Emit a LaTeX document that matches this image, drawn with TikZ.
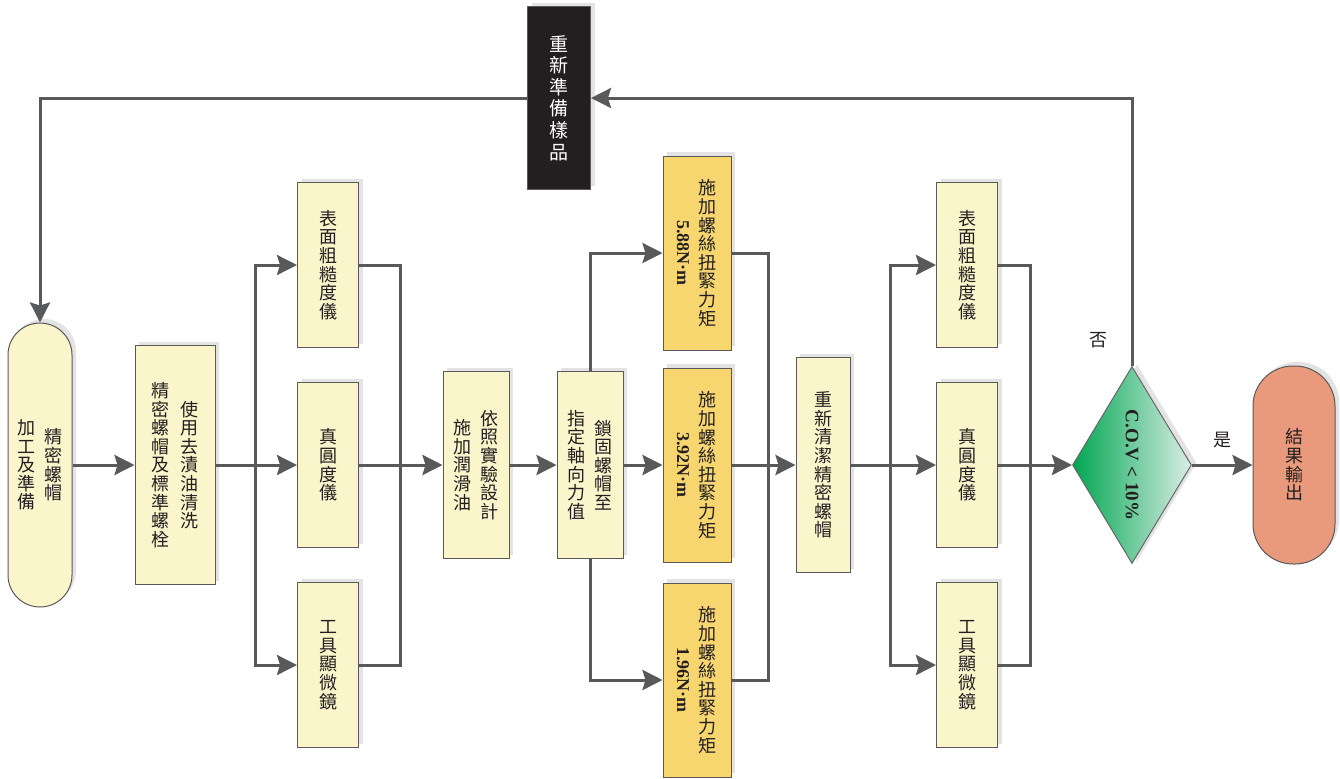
\documentclass[tikz,border=0pt]{standalone}
\usepackage{fontspec}
\setmainfont{Liberation Serif}
\newfontfamily\cjkfont{Noto Sans CJK TC}
\usepackage{graphicx}
\usepackage{tikz}
\usetikzlibrary{arrows.meta,positioning,shapes.geometric,shadows}
\definecolor{boxyellow}{RGB}{250,245,202}
\definecolor{torqueyellow}{RGB}{247,214,112}
\definecolor{resultsalmon}{RGB}{234,154,124}
\definecolor{covgreen}{RGB}{0,166,81}
\definecolor{covlight}{RGB}{218,238,230}
\definecolor{linegray}{RGB}{88,89,91}
\definecolor{inkdark}{RGB}{35,31,32}
\makeatletter
\newcommand\vcol[1]{$\vcenter{\@tfor\vch:=#1\do{\hbox to 1.05em{\hss\vch\hss}}}$}
\makeatother
\newcommand\vlatin[1]{$\vcenter{\hbox{\rotatebox{-90}{\rmfamily\bfseries #1}}}$}

\begin{document}
\begin{tikzpicture}[
    x=0.5pt, y=-0.5pt,
    every node/.style={font=\cjkfont\fontsize{9}{9.3}\selectfont, text=inkdark, inner sep=0pt},
    procbox/.style={rectangle, draw=black!65, line width=0.5pt, fill=boxyellow, drop shadow={shadow xshift=2pt, shadow yshift=2pt, fill=black!11, opacity=1}},
    torquebox/.style={procbox, fill=torqueyellow, minimum width=34pt, minimum height=97pt},
    toolbox/.style={procbox, minimum width=30.5pt, minimum height=82.5pt},
    termbox/.style={procbox, rounded corners=16pt},
    decision/.style={diamond, shape aspect=0.5, draw=black!60, line width=0.5pt, left color=covgreen, right color=covlight, drop shadow={shadow xshift=2.5pt, shadow yshift=1pt, fill=black!11, opacity=1}},
    arr/.style={-{Stealth[length=10pt,width=10pt,inset=1.5pt]}, line width=1.5pt, draw=linegray},
    link/.style={line width=1.5pt, draw=linegray}
]
\useasboundingbox (0,0) rectangle (1340,778);

\node[termbox, minimum width=32pt, minimum height=142pt] (start) at (40,465) {\vcol{加工及準備}\hspace{4.5pt}\vcol{精密螺帽}};
\node[procbox, minimum width=40pt, minimum height=119.5pt] (clean) at (175,465) {\vcol{精密螺帽及標準螺栓}\hspace{5pt}\vcol{使用去漬油清洗}};
\node[toolbox] (rough1) at (328,265) {\vcol{表面粗糙度儀}};
\node[toolbox] (round1) at (328,465) {\vcol{真圓度儀}};
\node[toolbox] (micro1) at (328,665) {\vcol{工具顯微鏡}};
\node[procbox, minimum width=33pt, minimum height=93.5pt] (lube) at (476,465) {\vcol{施加潤滑油}\hspace{4.5pt}\vcol{依照實驗設計}};
\node[procbox, minimum width=33pt, minimum height=93.5pt] (lock) at (590,465) {\vcol{指定軸向力值}\hspace{4.5pt}\vcol{鎖固螺帽至}};
\node[torquebox] (tq1) at (697,253) {\vlatin{\fontsize{9}{10}\selectfont 5.88N·m}\hspace{4.5pt}\vcol{施加螺絲扭緊力矩}};
\node[torquebox] (tq2) at (697,465) {\vlatin{\fontsize{9}{10}\selectfont 3.92N·m}\hspace{4.5pt}\vcol{施加螺絲扭緊力矩}};
\node[torquebox] (tq3) at (697,680) {\vlatin{\fontsize{9}{10}\selectfont 1.96N·m}\hspace{4.5pt}\vcol{施加螺絲扭緊力矩}};
\node[procbox, minimum width=27pt, minimum height=107.5pt] (reclean) at (823,465) {\vcol{重新清潔精密螺帽}};
\node[toolbox] (rough2) at (967,265) {\vcol{表面粗糙度儀}};
\node[toolbox] (round2) at (967,465) {\vcol{真圓度儀}};
\node[toolbox] (micro2) at (967,665) {\vcol{工具顯微鏡}};
\node[decision, minimum width=59.5pt, minimum height=98.5pt] (cov) at (1132,465) {\vlatin{\fontsize{9.5}{10}\selectfont C.O.V < 10\%}};
\node[termbox, fill=resultsalmon, rounded corners=20pt, minimum width=41pt, minimum height=99pt] (result) at (1294,465) {\vcol{結果輸出}};
\node[procbox, fill=inkdark, text=white, minimum width=31.5pt, minimum height=91.5pt, font=\cjkfont\fontsize{9.5}{10.8}\selectfont] (prep) at (559,98) {\vcol{重新準備樣品}};
\node (nolabel) at (1098,340) {否};

\coordinate (fork1) at (255,465);
\coordinate (join1) at (400,465);
\coordinate (join2) at (768,465);
\coordinate (fork2) at (890,465);
\coordinate (join3) at (1030,465);

\draw[arr] (start) -- (clean);
\draw[arr] (clean) -- (round1);
\draw[arr] (fork1) |- (rough1);
\draw[arr] (fork1) |- (micro1);
\draw[link] (rough1) -| (join1);
\draw[link] (micro1) -| (join1);
\draw[arr] (round1) -- (lube);
\draw[arr] (lube) -- (lock);
\draw[arr] (lock) |- (tq1);
\draw[arr] (lock) -- (tq2);
\draw[arr] (lock) |- (tq3);
\draw[link] (tq1) -| (join2);
\draw[link] (tq3) -| (join2);
\draw[arr] (tq2) -- (reclean);
\draw[arr] (reclean) -- (round2);
\draw[arr] (fork2) |- (rough2);
\draw[arr] (fork2) |- (micro2);
\draw[link] (rough2) -| (join3);
\draw[link] (micro2) -| (join3);
\draw[arr] (round2) -- (cov);
\draw[arr] (cov) -- node[above=8pt] {是} (result);
\draw[arr] (cov) |- (prep);
\draw[arr] (prep) -| (start);

\end{tikzpicture}
\end{document}
